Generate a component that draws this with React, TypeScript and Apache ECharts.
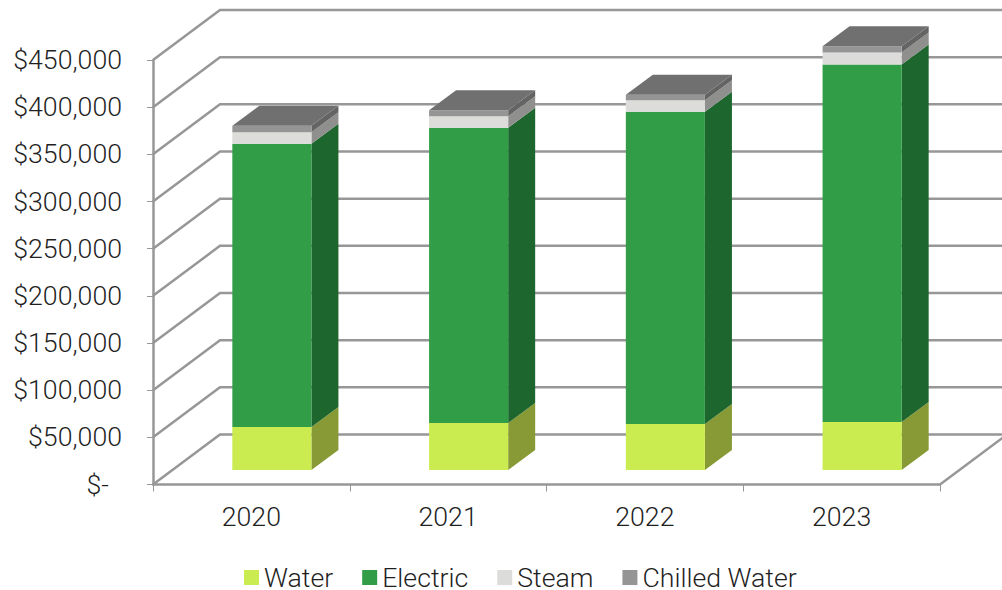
import React, { useEffect, useRef } from "react";
import * as echarts from "echarts";

const years = ["2020", "2021", "2022", "2023"];
const water = [45600, 49800, 48700, 50800];
const electric = [300300, 313000, 331000, 379000];
const steam = [12200, 12200, 12300, 12700];
const chilledWater = [6800, 6300, 5800, 6700];
const gridValues = [0, 50000, 100000, 150000, 200000, 250000, 300000, 350000, 400000, 450000];
const gridLabels = ["$-", "$50,000", "$100,000", "$150,000", "$200,000", "$250,000", "$300,000", "$350,000", "$400,000", "$450,000"];

const LINE = "#979797";
const FONT = "Roboto";
const TEXT = "#1f1f1f";
const FONT_SIZE = 26.7;

// Oblique projection of the chart's depth axis, in pixels.
const WALL_DX = 67;
const WALL_DY = -50;
const BAR_OFFSET_DX = 20.5;
const BAR_OFFSET_DY = -14.5;
const BAR_DEPTH_DX = 27;
const BAR_DEPTH_DY = -20;
const BAR_WIDTH_RATIO = 0.402;

const layers = [
  { name: "Water", values: water, front: "#CBEC50", side: "#879A35" },
  { name: "Electric", values: electric, front: "#329D47", side: "#1D662E" },
  { name: "Steam", values: steam, front: "#DCDCDA", side: "#8F8F8D" },
  { name: "Chilled Water", values: chilledWater, front: "#959595", side: "#646464", top: "#707070" },
];

// Bent gridline: up the floor or side wall, then along the back wall.
function renderWallLine(params: any, api: any) {
  const rect = params.coordSys;
  const value = api.value(1);
  const y = api.coord([0, value])[1];
  const left = rect.x;
  const right = rect.x + rect.width;
  const style = { stroke: LINE, lineWidth: 2.5, fill: "none" };
  const children: any[] = [
    {
      type: "polyline",
      shape: { points: [[left, y], [left + WALL_DX, y + WALL_DY], [right + WALL_DX, y + WALL_DY]] },
      style,
    },
  ];
  if (value === 0) {
    children.push({
      type: "line",
      shape: { x1: right, y1: y, x2: right + WALL_DX, y2: y + WALL_DY },
      style,
    });
  }
  return { type: "group", children };
}

// One segment of a stacked box: front face, right side and, when given, the lid.
function makeBoxRenderer(front: string, side: string, top?: string) {
  return (_params: any, api: any) => {
    const cat = api.value(0);
    const [cx, yBaseRaw] = api.coord([cat, api.value(1)]);
    const yTopRaw = api.coord([cat, api.value(2)])[1];
    const width = api.size([1, 0])[0] * BAR_WIDTH_RATIO;
    const x0 = cx - width / 2 + BAR_OFFSET_DX;
    const x1 = x0 + width;
    const yBase = yBaseRaw + BAR_OFFSET_DY;
    const yTop = yTopRaw + BAR_OFFSET_DY;
    const children: any[] = [
      {
        type: "polygon",
        shape: { points: [[x1, yTop], [x1 + BAR_DEPTH_DX, yTop + BAR_DEPTH_DY], [x1 + BAR_DEPTH_DX, yBase + BAR_DEPTH_DY], [x1, yBase]] },
        style: { fill: side },
      },
      {
        type: "polygon",
        shape: { points: [[x0, yTop], [x1, yTop], [x1, yBase], [x0, yBase]] },
        style: { fill: front },
      },
    ];
    if (top) {
      children.push({
        type: "polygon",
        shape: { points: [[x0, yTop], [x0 + BAR_DEPTH_DX, yTop + BAR_DEPTH_DY], [x1 + BAR_DEPTH_DX, yTop + BAR_DEPTH_DY], [x1, yTop]] },
        style: { fill: top },
      });
    }
    return { type: "group", children };
  };
}

function buildBoxSeries() {
  const running = years.map(() => 0);
  return layers.map((layer, i) => ({
    type: "custom",
    name: layer.name,
    clip: false,
    silent: true,
    z: 3 + i,
    itemStyle: { color: layer.front },
    renderItem: makeBoxRenderer(layer.front, layer.side, layer.top),
    encode: { x: 0, y: [1, 2] },
    data: layer.values.map((v, c) => {
      const base = running[c];
      running[c] += v;
      return [c, base, running[c]];
    }),
  }));
}

export default function App() {
  const ref = useRef<HTMLDivElement>(null);

  useEffect(() => {
    if (!ref.current) return;
    const chart = echarts.init(ref.current, undefined, { renderer: "svg" });
    chart.setOption({
      animation: false,
      backgroundColor: "#ffffff",
      textStyle: { fontFamily: FONT, fontWeight: 300 },
      grid: { left: 153, right: 62, top: 60, bottom: 105.5, containLabel: false },
      legend: {
        data: layers.map((l) => l.name),
        icon: "rect",
        itemWidth: 15,
        itemHeight: 15,
        itemGap: 29,
        left: 239,
        top: 559,
        selectedMode: false,
        textStyle: { fontFamily: FONT, fontWeight: 300, fontSize: FONT_SIZE, color: TEXT },
      },
      xAxis: {
        type: "category",
        data: years,
        axisLine: { lineStyle: { color: LINE, width: 2.5 } },
        axisTick: { show: true, length: 7, lineStyle: { color: LINE, width: 1 } },
        axisLabel: { fontFamily: FONT, fontWeight: 300, fontSize: FONT_SIZE, color: TEXT, margin: 19 },
        splitLine: { show: false },
      },
      yAxis: {
        type: "value",
        min: 0,
        max: 450000,
        interval: 50000,
        axisLine: { show: true, lineStyle: { color: LINE, width: 2.5 } },
        axisTick: { show: true, length: 6, lineStyle: { color: LINE, width: 1 } },
        splitLine: { show: false },
        axisLabel: {
          fontFamily: FONT,
          fontWeight: 300,
          fontSize: FONT_SIZE,
          color: TEXT,
          margin: 31,
          formatter: (v: number) => {
            const label = gridLabels[gridValues.indexOf(v)];
            return v === 0 ? `{nil|${label}}` : label;
          },
          rich: { nil: { fontFamily: FONT, fontWeight: 300, fontSize: FONT_SIZE, color: TEXT, padding: [0, 13, 0, 0] } },
        },
      },
      series: [
        {
          type: "custom",
          name: "walls",
          clip: false,
          silent: true,
          z: 1,
          renderItem: renderWallLine,
          encode: { y: 1 },
          data: gridValues.map((v) => [0, v]),
        },
        ...buildBoxSeries(),
      ],
    });
    return () => chart.dispose();
  }, []);

  return <div ref={ref} style={{ position: "absolute", left: 0, top: 0, width: 1002, height: 590 }} />;
}
